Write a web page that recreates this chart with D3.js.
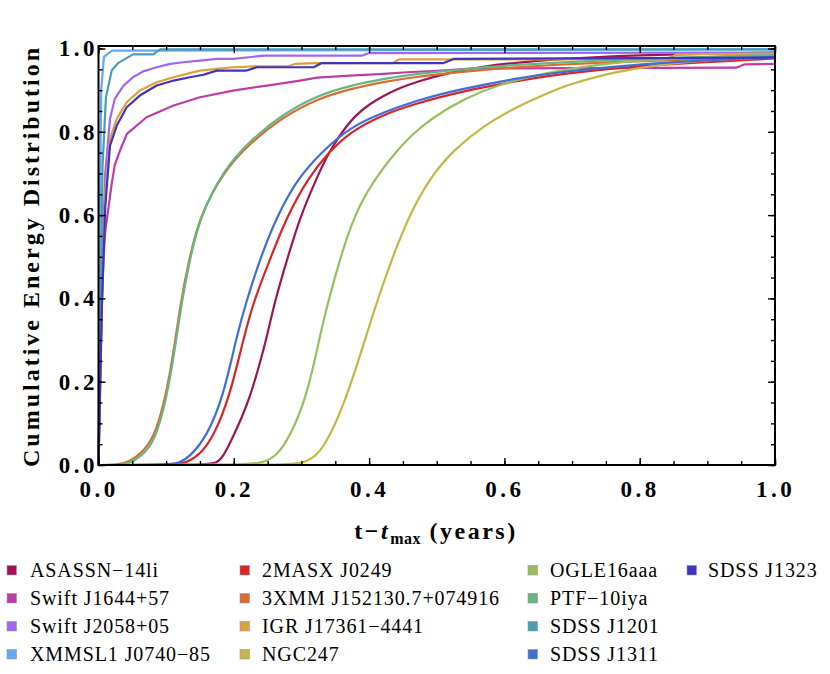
<!DOCTYPE html>
<html>
<head>
<meta charset="utf-8">
<script src="https://cdn.jsdelivr.net/npm/d3@7"></script>
<style>
  body { margin: 0; background: #fff; }
  .axis text { font-family: "Liberation Serif", serif; font-weight: bold; font-size: 23px; letter-spacing: 3.5px; fill: #000; }
  .axis line { stroke: #000; stroke-width: 1.4px; }
  .axis-title { font-family: "Liberation Serif", serif; font-weight: bold; font-size: 24px; fill: #000; }
  .legend-label { font-family: "Liberation Serif", serif; font-size: 20px; letter-spacing: 0.9px; fill: #000; }
  .curve { fill: none; stroke-width: 2.2px; stroke-linejoin: round; }
</style>
</head>
<body>
<svg id="chart"></svg>
<script>
// series names, in legend / drawing order
const names = [
  'ASASSN\u221214li', 'Swift J1644+57', 'Swift J2058+05', 'XMMSL1 J0740\u221285',
  '2MASX J0249', '3XMM J152130.7+074916', 'IGR J17361\u22124441', 'NGC247',
  'OGLE16aaa', 'PTF\u221210iya', 'SDSS J1201', 'SDSS J1311', 'SDSS J1323'
];

const colors = [
  '#9e1456', '#bf3ba8', '#a066f0', '#62a8f5',
  '#d92525', '#e0692e', '#dfa03a', '#c4b843',
  '#98bf5c', '#66b585', '#4a9db5', '#3f6fd6', '#4033bf'
];

// [t - tmax (years), cumulative energy fraction]
const asassn14li = [[0,0],[0.16,0],[0.175,0.005],[0.1845,0.02],[0.199,0.068],[0.212,0.115],[0.224,0.164],[0.237,0.235],[0.249,0.308],[0.261,0.396],[0.28,0.5],[0.298,0.595],[0.32,0.68],[0.34,0.75],[0.36,0.8],[0.38,0.84],[0.4,0.866],[0.421,0.886],[0.445,0.905],[0.47,0.92],[0.52,0.943],[0.569,0.957],[0.618,0.966],[0.667,0.973],[0.75,0.981],[0.85,0.986],[1.0,0.99]];
const swiftJ1644 = [[0,0],[0.003,0.25],[0.006,0.45],[0.0096,0.556],[0.0195,0.675],[0.024,0.72],[0.033,0.76],[0.042,0.795],[0.071,0.835],[0.111,0.863],[0.15,0.883],[0.199,0.899],[0.249,0.911],[0.298,0.923],[0.323,0.93],[0.372,0.935],[0.421,0.939],[0.456,0.943],[0.495,0.946],[0.55,0.952],[0.943,0.954],[0.955,0.962],[1.0,0.963]];
const swiftJ2058 = [[0,0],[0.005,0.45],[0.01,0.7],[0.017,0.831],[0.024,0.879],[0.037,0.911],[0.051,0.931],[0.066,0.945],[0.086,0.955],[0.106,0.963],[0.125,0.967],[0.15,0.971],[0.175,0.975],[0.199,0.975],[0.234,0.981],[0.245,0.983],[0.39,0.983],[0.4,0.989],[1.0,0.99]];
const xmmslJ0740 = [[0,0],[0.002,0.6],[0.004,0.9],[0.008,0.98],[0.02,0.995],[1.0,0.998]];
const twoMasxJ0249 = [[0,0],[0.11,0],[0.13,0.005],[0.15,0.025],[0.17,0.068],[0.194,0.164],[0.215,0.308],[0.23,0.396],[0.255,0.5],[0.278,0.595],[0.31,0.69],[0.34,0.75],[0.372,0.8],[0.421,0.842],[0.47,0.868],[0.52,0.89],[0.569,0.907],[0.618,0.922],[0.667,0.935],[0.75,0.951],[0.85,0.964],[1.0,0.976]];
const threeXmm = [[0,0],[0.025,0],[0.045,0.006],[0.068,0.035],[0.085,0.075],[0.105,0.2],[0.122,0.4],[0.135,0.5],[0.149,0.595],[0.184,0.703],[0.224,0.773],[0.273,0.836],[0.323,0.879],[0.372,0.903],[0.421,0.92],[0.47,0.932],[0.52,0.941],[0.569,0.949],[0.618,0.955],[0.667,0.96],[0.75,0.967],[0.85,0.973],[1.0,0.978]];
const igrJ17361 = [[0,0],[0.005,0.4],[0.01,0.65],[0.017,0.783],[0.027,0.831],[0.0417,0.871],[0.061,0.899],[0.086,0.919],[0.111,0.931],[0.135,0.941],[0.15,0.947],[0.175,0.951],[0.199,0.955],[0.23,0.957],[0.28,0.957],[0.29,0.963],[0.32,0.965],[0.435,0.965],[0.445,0.974],[0.84,0.974],[0.855,0.986],[1.0,0.988]];
const ngc247 = [[0,0],[0.28,0],[0.3,0.004],[0.3225,0.02],[0.342,0.068],[0.367,0.164],[0.39,0.28],[0.413,0.4],[0.435,0.5],[0.458,0.595],[0.49,0.69],[0.524,0.755],[0.569,0.815],[0.618,0.86],[0.667,0.895],[0.692,0.912],[0.741,0.935],[0.791,0.951],[0.84,0.963],[0.889,0.971],[0.938,0.975],[1.0,0.979]];
const ogle16aaa = [[0,0],[0.21,0],[0.24,0.004],[0.263,0.02],[0.283,0.068],[0.308,0.164],[0.327,0.308],[0.34,0.396],[0.358,0.5],[0.377,0.595],[0.405,0.68],[0.441,0.755],[0.47,0.805],[0.52,0.862],[0.569,0.9],[0.618,0.925],[0.667,0.943],[0.741,0.962],[0.8,0.972],[0.9,0.98],[1.0,0.985]];
const ptf10iya = [[0,0],[0.03,0],[0.049,0.005],[0.07,0.03],[0.086,0.068],[0.106,0.196],[0.123,0.396],[0.136,0.5],[0.15,0.595],[0.184,0.707],[0.224,0.779],[0.273,0.843],[0.323,0.887],[0.372,0.911],[0.421,0.927],[0.47,0.939],[0.52,0.947],[0.569,0.955],[0.618,0.961],[0.667,0.965],[0.75,0.972],[0.85,0.978],[1.0,0.984]];
const sdssJ1201 = [[0,0],[0.006,0.72],[0.011,0.883],[0.0195,0.947],[0.029,0.965],[0.051,0.986],[0.081,0.986],[0.091,0.998],[1.0,0.998]];
const sdssJ1311 = [[0,0],[0.1,0],[0.12,0.005],[0.135,0.02],[0.16,0.068],[0.1845,0.164],[0.204,0.308],[0.219,0.396],[0.24,0.5],[0.263,0.595],[0.295,0.69],[0.332,0.755],[0.372,0.811],[0.421,0.847],[0.47,0.875],[0.52,0.897],[0.569,0.913],[0.618,0.928],[0.667,0.94],[0.75,0.955],[0.85,0.968],[1.0,0.98]];
const sdssJ1323 = [[0,0],[0.005,0.38],[0.01,0.62],[0.017,0.767],[0.027,0.815],[0.0417,0.859],[0.061,0.887],[0.086,0.911],[0.111,0.923],[0.135,0.931],[0.155,0.937],[0.175,0.947],[0.219,0.947],[0.234,0.955],[0.318,0.955],[0.33,0.965],[0.51,0.965],[0.525,0.975],[1.0,0.978]];

const seriesValues = [asassn14li, swiftJ1644, swiftJ2058, xmmslJ0740, twoMasxJ0249, threeXmm, igrJ17361, ngc247, ogle16aaa, ptf10iya, sdssJ1201, sdssJ1311, sdssJ1323];
// smooth model curves vs. jagged data-driven ones
const smoothSeries = [true, false, false, false, true, true, false, true, true, true, false, true, false];

const majorTicks = [0, 0.2, 0.4, 0.6, 0.8, 1.0];
const minorTicks = d3.range(0, 1.0001, 0.05);

class CedPlot {
  constructor(_config) {
    this.config = {
      parentElement: _config.parentElement,
      containerWidth: 830,
      containerHeight: 674,
      plot: { left: 98.5, right: 775, top: 46, bottom: 465 },
      legendCols: [{sx: 7, tx: 30}, {sx: 240, tx: 262}, {sx: 528, tx: 550}, {sx: 687, tx: 708}],
      legendRows: [570, 598, 626, 654]
    };
    this.initVis();
  }

  initVis() {
    let vis = this;
    const p = vis.config.plot;

    vis.svg = d3.select(vis.config.parentElement)
      .attr('width', vis.config.containerWidth)
      .attr('height', vis.config.containerHeight);

    vis.xScale = d3.scaleLinear().domain([0, 1]).range([p.left, p.right]);
    vis.yScale = d3.scaleLinear().domain([0, 1.006]).range([p.bottom, p.top]);

    vis.curves = vis.svg.append('g');
    vis.axes = vis.svg.append('g');
    vis.legend = vis.svg.append('g');
  }

  renderVis() {
    let vis = this;
    const p = vis.config.plot;
    const fmt = d3.format('.1f');

    // curves
    seriesValues.forEach((vals, i) => {
      const line = d3.line()
        .x(d => vis.xScale(d[0]))
        .y(d => vis.yScale(d[1]))
        .curve(smoothSeries[i] ? d3.curveBasis : d3.curveLinear);
      vis.curves.append('path')
        .attr('class', 'curve')
        .attr('stroke', colors[i])
        .attr('d', line(vals));
    });

    // inward ticks on all four sides, labels on left and bottom only
    const addAxis = (axisFn, scale, transform, values, size, labelled, pad) => {
      const ax = axisFn(scale).tickValues(values).tickSize(-size).tickPadding(pad);
      if (!labelled) ax.tickFormat('');
      else ax.tickFormat(fmt);
      vis.axes.append('g')
        .attr('class', 'axis')
        .attr('transform', transform)
        .call(ax)
        .call(g => g.select('.domain').remove());
    };
    addAxis(d3.axisBottom, vis.xScale, `translate(0,${p.bottom})`, minorTicks, 4, false, 0);
    addAxis(d3.axisBottom, vis.xScale, `translate(0,${p.bottom})`, majorTicks, 7, true, 16);
    addAxis(d3.axisTop, vis.xScale, `translate(0,${p.top})`, minorTicks, 4, false, 0);
    addAxis(d3.axisTop, vis.xScale, `translate(0,${p.top})`, majorTicks, 7, false, 0);
    addAxis(d3.axisLeft, vis.yScale, `translate(${p.left},0)`, minorTicks, 4, false, 0);
    addAxis(d3.axisLeft, vis.yScale, `translate(${p.left},0)`, majorTicks, 7, true, 0.5);
    addAxis(d3.axisRight, vis.yScale, `translate(${p.right},0)`, minorTicks, 4, false, 0);
    addAxis(d3.axisRight, vis.yScale, `translate(${p.right},0)`, majorTicks, 7, false, 0);

    // nudge centred x labels back by half the trailing letter-spacing
    vis.axes.selectAll('.axis text').filter(function () {
      return this.getAttribute('text-anchor') === 'middle';
    }).attr('dx', 1.75);

    vis.axes.append('rect')
      .attr('x', p.left).attr('y', p.top)
      .attr('width', p.right - p.left).attr('height', p.bottom - p.top)
      .attr('fill', 'none').attr('stroke', '#000').attr('stroke-width', 2);

    // axis titles
    const xt = vis.svg.append('text')
      .attr('class', 'axis-title')
      .attr('x', 436).attr('y', 539)
      .attr('text-anchor', 'middle')
      .style('letter-spacing', '2.5px');
    xt.append('tspan').text('t\u2212');
    xt.append('tspan').style('font-style', 'italic').text('t');
    xt.append('tspan').attr('dy', 5).style('font-size', '16px').style('letter-spacing', '0.5px').text('max');
    xt.append('tspan').attr('dy', -5).text(' (years)');

    vis.svg.append('text')
      .attr('class', 'axis-title')
      .attr('transform', 'translate(39,256) rotate(-90)')
      .attr('text-anchor', 'middle')
      .style('letter-spacing', '3px')
      .text('Cumulative Energy Distribution');

    // legend, filled column by column
    names.forEach((name, i) => {
      const col = vis.config.legendCols[Math.floor(i / 4)];
      const row = vis.config.legendRows[i % 4];
      vis.legend.append('rect')
        .attr('x', col.sx).attr('y', row - 4.5)
        .attr('width', 9.5).attr('height', 9.5)
        .attr('fill', colors[i])
        .attr('stroke', '#999').attr('stroke-width', 0.6);
      vis.legend.append('text')
        .attr('class', 'legend-label')
        .attr('x', col.tx).attr('y', row)
        .attr('dy', '0.35em')
        .text(name);
    });
  }
}

const plot = new CedPlot({ parentElement: '#chart' });
plot.renderVis();
</script>
</body>
</html>
